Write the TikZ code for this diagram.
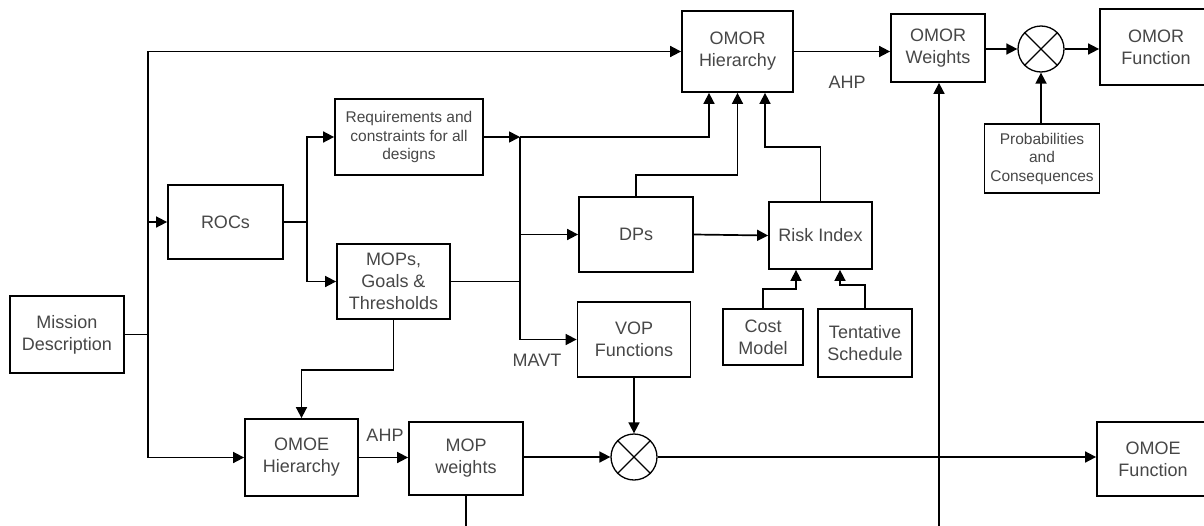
\documentclass[tikz,border=0pt]{standalone}
\usepackage{fontspec}
\setmainfont{Liberation Sans}
\usetikzlibrary{arrows.meta,calc}
\tikzset{
  blk/.style={draw=black, line width=1.8pt, inner sep=0pt, align=center,
    text=black!72, font=\fontsize{18}{22}\selectfont},
  blksmall/.style={blk, font=\fontsize{15.5}{18.5}\selectfont},
  mult/.style={draw=black, circle, line width=1.3pt, minimum size=46pt, inner sep=0pt},
  conn/.style={draw=black, line width=1.7pt},
  arr/.style={conn, -{Triangle[length=11pt,width=11pt]}},
  lbl/.style={text=black!72, font=\fontsize{18}{22}\selectfont, inner sep=0pt}
}
\begin{document}
\begin{tikzpicture}[x=1pt,y=-1pt]
\useasboundingbox[fill=white] (0,0) rectangle (1204,525);
% boxes
\node[blk, minimum width=114pt, minimum height=77pt] (mission) at (67,334.5) {Mission\\Description};
\node[blk, minimum width=115pt, minimum height=74pt] (rocs) at (225.5,222) {ROCs};
\node[blksmall, minimum width=148pt, minimum height=76pt] (req) at (409,137) {Requirements and\\constraints for all\\designs};
\node[blk, minimum width=113pt, minimum height=75pt] (mops) at (393.5,281.5) {MOPs,\\Goals \&\\Thresholds};
\node[blk, minimum width=113pt, minimum height=77pt] (omoeh) at (301.5,457.5) {OMOE\\Hierarchy};
\node[blk, minimum width=114pt, minimum height=73pt] (mopw) at (466,458.5) {MOP\\weights};
\node[blk, minimum width=113pt, minimum height=75pt] (vop) at (634,339.5) {VOP\\Functions};
\node[blk, minimum width=114pt, minimum height=75pt] (dps) at (636,234.5) {DPs};
\node[blk, minimum width=111pt, minimum height=81pt] (omorh) at (737.5,51.5) {OMOR\\Hierarchy};
\node[blk, minimum width=103pt, minimum height=67pt] (risk) at (820.5,235.5) {Risk Index};
\node[blk, minimum width=80pt, minimum height=56pt] (cost) at (763,337) {Cost\\Model};
\node[blk, minimum width=94pt, minimum height=68pt] (tent) at (865,343) {Tentative\\Schedule};
\node[blk, minimum width=94pt, minimum height=68pt] (omorw) at (938,48) {OMOR\\Weights};
\node[blksmall, minimum width=115pt, minimum height=69pt] (prob) at (1042,158.5) {Probabilities\\and\\Consequences};
\node[blk, minimum width=112pt, minimum height=76pt] (omorf) at (1156,47) {OMOR\\Function};
\node[blk, minimum width=112pt, minimum height=74pt] (omoef) at (1153,459) {OMOE\\Function};
% multipliers
\node[mult] (m1) at (1041,49) {};
\draw[line width=1.3pt] (m1.north east) -- (m1.south west) (m1.north west) -- (m1.south east);
\node[mult] (m2) at (634,457) {};
\draw[line width=1.3pt] (m2.north east) -- (m2.south west) (m2.north west) -- (m2.south east);
% labels
\node[lbl] (ahp1) at (847,82) {AHP};
\node[lbl] (ahp2) at (385,435) {AHP};
\node[lbl] (mavt) at (537,360) {MAVT};
% junction coordinates
\coordinate (jm) at (148,334.5);
\coordinate (jr) at (307,222);
\coordinate (jv) at (520,137);
\coordinate (bot1) at (466,530);
\coordinate (bot2) at (939,530);
% connectors
\draw[conn] (mission.east) -- (jm);
\draw[arr] (jm) |- (omorh.west);
\draw[arr] (jm) |- (rocs.west);
\draw[arr] (jm) |- (omoeh.west);
\draw[conn] (rocs.east) -- (jr);
\draw[arr] (jr) |- (req.west);
\draw[arr] (jr) |- (mops.west);
\draw[arr] (req.east) -- (jv);
\draw[arr] (jv) -| ([xshift=-28.5pt]omorh.south);
\draw[conn] (mops.east) -- (jv |- mops.east);
\draw[arr] (jv) |- (dps.west);
\draw[arr] (jv) |- (vop.west);
\draw[arr] (dps.north) -- ++(0,-21) -| (omorh.south);
\draw[arr] (risk.north) -- ++(0,-54) -| ([xshift=27.5pt]omorh.south);
\draw[arr] (dps.east) -- (risk.west);
\draw[arr] (cost.north) -- ++(0,-19) -| ([xshift=-24.5pt]risk.south);
\draw[arr] (tent.north) -- ++(0,-23) -| ([xshift=19.5pt]risk.south);
\draw[arr] (mops.south) -- ++(0,50) -| (omoeh.north);
\draw[arr] (omoeh.east) -- (mopw.west |- omoeh.east);
\draw[arr] (mopw.east |- m2) -- (m2.west);
\draw[arr] (vop.south) -- (m2.north);
\draw[arr] (m2.east) -- (omoef.west |- m2.east);
\draw[conn] (mopw.south) -- (bot1);
\draw[arr] (bot2) -- (omorw.south -| bot2);
\draw[arr] (omorh.east) -- (omorw.west |- omorh.east);
\draw[arr] (omorw.east |- m1) -- (m1.west);
\draw[arr] (m1.east) -- (omorf.west |- m1.east);
\draw[arr] (prob.north -| m1) -- (m1.south);
\end{tikzpicture}
\end{document}
